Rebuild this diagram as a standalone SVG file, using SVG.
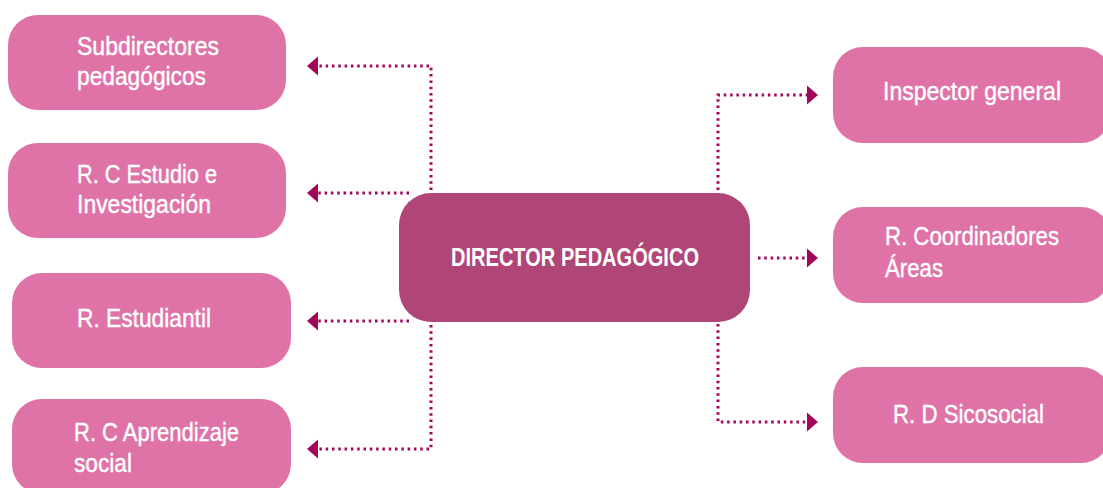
<svg xmlns="http://www.w3.org/2000/svg" width="1103" height="488" viewBox="0 0 1103 488">
<style>
.node{fill:#df73a8}
.main{fill:#b04677}
.t{font-family:"Liberation Sans",Arial,sans-serif;font-size:26px;fill:#ffffff;stroke:#ffffff;stroke-width:0.4}
.tb{font-family:"Liberation Sans",Arial,sans-serif;font-size:26px;font-weight:bold;fill:#ffffff}
.dot{fill:none;stroke:#a2065c;stroke-width:3;stroke-dasharray:2.5 3.8}
.ah{fill:#a2065c}
</style>
<rect width="1103" height="488" fill="#ffffff"/>
<g id="connectors">
<path class="dot" d="M431,190 V66 H318"/>
<path class="dot" d="M409,193 H318"/>
<path class="dot" d="M409,321 H318"/>
<path class="dot" d="M431,325 V449 H318"/>
<path class="dot" d="M718,190 V95 H807"/>
<path class="dot" d="M758,258 H807"/>
<path class="dot" d="M718,324 V422 H807"/>
<polygon class="ah" points="307,66 318,56.5 318,75.5"/>
<polygon class="ah" points="307,193 318,183.5 318,202.5"/>
<polygon class="ah" points="307,321 318,311.5 318,330.5"/>
<polygon class="ah" points="307,449 318,439.5 318,458.5"/>
<polygon class="ah" points="818,95 807,85.5 807,104.5"/>
<polygon class="ah" points="818,258 807,248.5 807,267.5"/>
<polygon class="ah" points="818,422 807,412.5 807,431.5"/>
</g>
<g id="director">
<rect class="main" x="399" y="193" width="351" height="129" rx="32"/>
<text class="tb" x="451" y="266" textLength="248" lengthAdjust="spacingAndGlyphs">DIRECTOR PEDAGÓGICO</text>
</g>
<g id="subdirectores">
<rect class="node" x="8" y="15" width="278" height="95" rx="30"/>
<text class="t" x="77" y="55" textLength="142" lengthAdjust="spacingAndGlyphs">Subdirectores</text>
<text class="t" x="77" y="85" textLength="129" lengthAdjust="spacingAndGlyphs">pedagógicos</text>
</g>
<g id="estudio">
<rect class="node" x="8" y="143" width="278" height="95" rx="30"/>
<text class="t" x="77" y="183" textLength="140" lengthAdjust="spacingAndGlyphs">R. C Estudio e</text>
<text class="t" x="77" y="213" textLength="134" lengthAdjust="spacingAndGlyphs">Investigación</text>
</g>
<g id="estudiantil">
<rect class="node" x="12" y="273" width="279" height="95" rx="30"/>
<text class="t" x="77" y="327" textLength="134" lengthAdjust="spacingAndGlyphs">R. Estudiantil</text>
</g>
<g id="aprendizaje">
<rect class="node" x="12" y="399" width="279" height="95" rx="30"/>
<text class="t" x="74" y="441" textLength="165" lengthAdjust="spacingAndGlyphs">R. C Aprendizaje</text>
<text class="t" x="74" y="472" textLength="58" lengthAdjust="spacingAndGlyphs">social</text>
</g>
<g id="inspector">
<rect class="node" x="833" y="47" width="278" height="96" rx="30"/>
<text class="t" x="883" y="100" textLength="178" lengthAdjust="spacingAndGlyphs">Inspector general</text>
</g>
<g id="coordinadores">
<rect class="node" x="833" y="207" width="278" height="96" rx="30"/>
<text class="t" x="885" y="245" textLength="174" lengthAdjust="spacingAndGlyphs">R. Coordinadores</text>
<text class="t" x="885" y="277" textLength="58" lengthAdjust="spacingAndGlyphs">Áreas</text>
</g>
<g id="sicosocial">
<rect class="node" x="833" y="367" width="278" height="96" rx="30"/>
<text class="t" x="893" y="423" textLength="151" lengthAdjust="spacingAndGlyphs">R. D Sicosocial</text>
</g>
</svg>
